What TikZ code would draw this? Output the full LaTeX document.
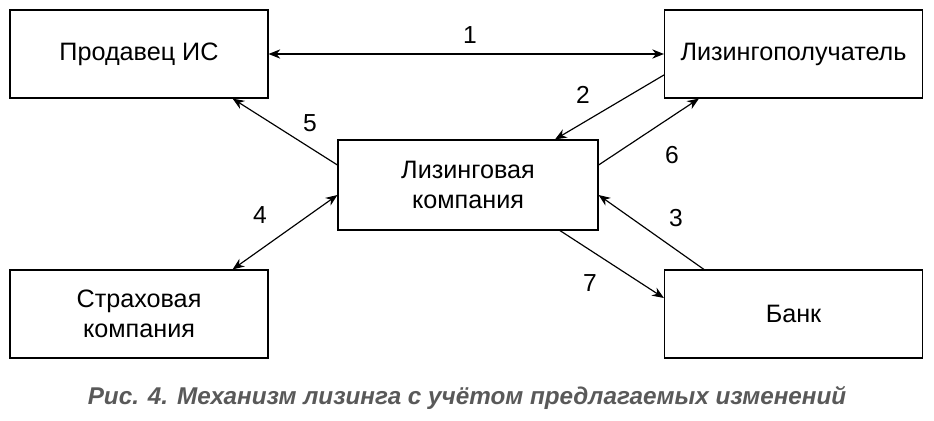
\documentclass[tikz,border=0pt]{standalone}
\usepackage{fontspec}
\setmainfont{Liberation Sans}
\usetikzlibrary{calc,arrows.meta}
\tikzset{box/.style={draw,line width=1pt,minimum width=258*0.03cm,minimum height=88*0.03cm,align=center,font=\fontsize{21.5}{26}\selectfont}}
\tikzset{link/.style={line width=1pt,-{Stealth[length=10pt,width=8pt]}}}
\tikzset{both/.style={line width=1pt,{Stealth[length=10pt,width=8pt]}-{Stealth[length=10pt,width=8pt]}}}
\tikzset{num/.style={font=\fontsize{21}{26}\selectfont}}
\begin{document}
\begin{tikzpicture}[x=0.03cm,y=-0.03cm]
                \useasboundingbox (0,0) rectangle (934,420);
                \node [box] (seller) at (139,54) {Продавец ИС};
                \node [box] (recv) at (793.5,54) {Лизингополучатель};
                \node [box,minimum width=260*0.03cm,minimum height=90*0.03cm] (comp) at (468,185) {Лизинговая\\компания};
                \node [box] (ins) at (139,314) {Страховая\\компания};
                \node [box] (bank) at (793.5,314) {Банк};

                \draw [both] (seller.east) -- (recv.west);
                \draw [link] ($(recv.west)+(0,21)$) -- ($(comp.north)+(87,0)$);
                \draw [link] ($(comp.west)+(0,-20)$) -- ($(seller.south east)+(-36,0)$);
                \draw [link] ($(comp.east)+(0,-20)$) -- ($(recv.south west)+(35,0)$);
                \draw [both] ($(ins.north east)+(-36,0)$) -- ($(comp.west)+(0,10)$);
                \draw [link] ($(bank.north west)+(40,0)$) -- ($(comp.east)+(0,10)$);
                \draw [link] ($(comp.south)+(92,0)$) -- ($(bank.west)+(0,-16)$);

                \node [num] (l1) at (470,35) {1};
                \node [num] (l2) at (583,95) {2};
                \node [num] (l3) at (676,218) {3};
                \node [num] (l4) at (260,215) {4};
                \node [num] (l5) at (310,123) {5};
                \node [num] (l6) at (672,155) {6};
                \node [num] (l7) at (590,283) {7};

                \node [font=\fontsize{20.7}{24}\selectfont\bfseries\itshape,text=black!65] (caption) at (467,398) {Рис. 4. Механизм лизинга с учётом предлагаемых изменений};
\end{tikzpicture}
\end{document}
